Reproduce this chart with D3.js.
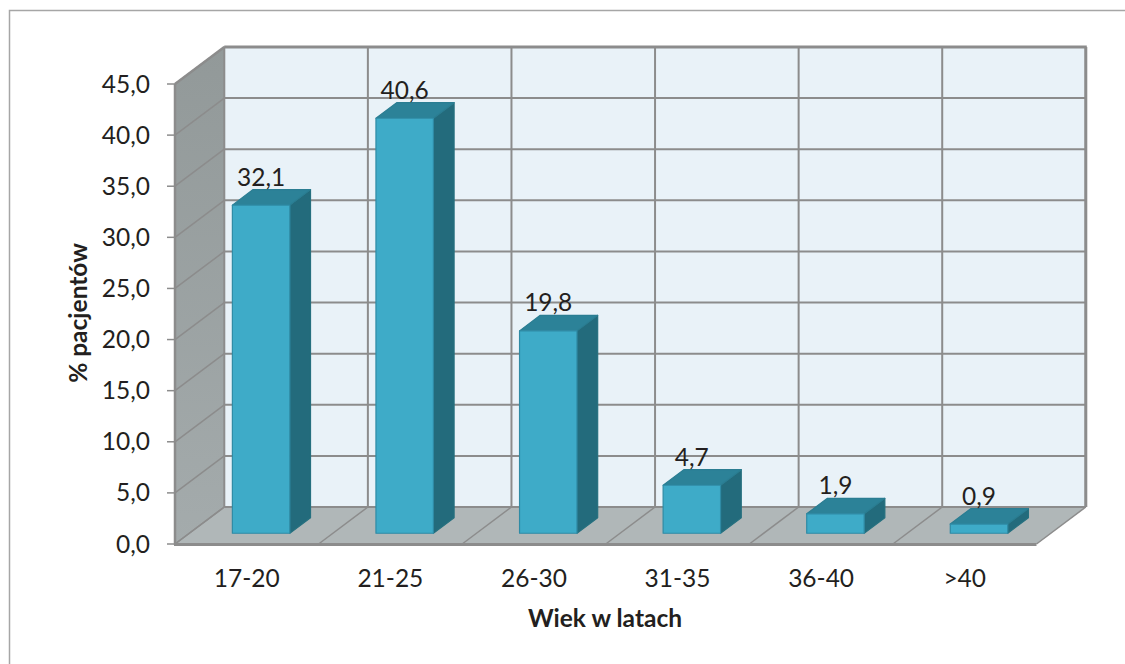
<!DOCTYPE html>
<html>
<head>
<meta charset="utf-8">
<script src="https://cdn.jsdelivr.net/npm/d3@7/dist/d3.min.js"></script>
<style>
html, body { margin: 0; padding: 0; background: #fff; }
svg { display: block; }
text { font-family: Lato, "Open Sans", sans-serif; fill: #231f20; }
</style>
</head>
<body>
<svg id="chart" width="1125" height="664"></svg>
<script>
// Age distribution of patients, drawn as a pseudo-3D column chart.
const categories = ["17-20", "21-25", "26-30", "31-35", "36-40", ">40"];
const values = [32.1, 40.6, 19.8, 4.7, 1.9, 0.9];
const valueLabels = ["32,1", "40,6", "19,8", "4,7", "1,9", "0,9"];
const yTicks = [0, 5, 10, 15, 20, 25, 30, 35, 40, 45];
const xTitle = "Wiek w latach";
const yTitle = "% pacjentów";

const svg = d3.select("#chart");

// Front plane of the box and the offset of its back wall.
const x = d3.scaleBand().domain(categories).range([175, 1036.5]);
const y = d3.scaleLinear().domain([0, 45]).range([544, 84]);
const depthX = 49.3, depthY = -37;
const gapRatio = 0.6;          // column width as share of the band is 1 - gapRatio
const depthStart = 0.29, depthEnd = 0.71;

const formatTick = d3.format(".1f");
const tickLabel = v => formatTick(v).replace(".", ",");
const line = d3.line();

const gridColor = "#8c8c8c";
const labelSize = 24.5;
const titleSize = 24.5;

// Outer frame of the chart area
svg.append("path")
  .attr("d", "M9.5,664V10.5H1125")
  .attr("fill", "none")
  .attr("stroke", "#a6a6a6")
  .attr("stroke-width", 1.5);

const x0 = x.range()[0], x1 = x.range()[1];
const y0 = y(0), yTop = y(45);

// Gradient for the shaded side wall
const defs = svg.append("defs");
const wallGrad = defs.append("linearGradient")
  .attr("id", "wall").attr("x1", 0).attr("y1", 0).attr("x2", 0).attr("y2", 1);
wallGrad.append("stop").attr("offset", 0).attr("stop-color", "#929999");
wallGrad.append("stop").attr("offset", 1).attr("stop-color", "#a4abac");

// Back wall, side wall, floor
svg.append("rect")
  .attr("x", x0 + depthX).attr("y", yTop + depthY)
  .attr("width", x1 - x0).attr("height", y0 - yTop)
  .attr("fill", "#e9f2f8");
svg.append("path")
  .attr("d", line([[x0, y0], [x0, yTop], [x0 + depthX, yTop + depthY], [x0 + depthX, y0 + depthY]]) + "Z")
  .attr("fill", "url(#wall)");
svg.append("path")
  .attr("d", line([[x0, y0], [x1, y0], [x1 + depthX, y0 + depthY], [x0 + depthX, y0 + depthY]]) + "Z")
  .attr("fill", "#b0b7b8");

// Horizontal gridlines running along the side wall and across the back wall
const gridG = svg.append("g").attr("fill", "none").attr("stroke", gridColor);
yTicks.forEach(v => {
  gridG.append("path")
    .attr("d", line([[x0, y(v)], [x0 + depthX, y(v) + depthY]]))
    .attr("stroke-width", 1.5);
  gridG.append("path")
    .attr("d", line([[x0 + depthX, y(v) + depthY], [x1 + depthX, y(v) + depthY]]))
    .attr("stroke-width", 2);
});

// Vertical gridlines on the back wall and their continuation on the floor
const edges = categories.map(c => x(c)).concat([x1]);
edges.forEach(ex => {
  gridG.append("path")
    .attr("d", line([[ex + depthX, y(45) + depthY], [ex + depthX, y(0) + depthY]]))
    .attr("stroke-width", 2);
  gridG.append("path")
    .attr("d", line([[ex, y0], [ex + depthX, y0 + depthY]]))
    .attr("stroke-width", 1.5);
});

// Box edges and the value axis with its tick marks
gridG.append("path").attr("d", line([[x0, yTop], [x0, y0 + 1]])).attr("stroke-width", 2.5);
gridG.append("path").attr("d", line([[x0 - 1, y0 + 0.5], [x1, y0 + 0.5]])).attr("stroke-width", 3);
gridG.append("path").attr("d", line([[x0, yTop], [x0 + depthX, yTop + depthY]])).attr("stroke-width", 2.5);
gridG.append("path").attr("d", line([[x0 + depthX, yTop + depthY], [x1 + depthX + 1, yTop + depthY]])).attr("stroke-width", 3);
gridG.append("path").attr("d", line([[x1 + depthX, yTop + depthY], [x1 + depthX, y0 + depthY]])).attr("stroke-width", 3);
yTicks.forEach(v => {
  gridG.append("path")
    .attr("d", line([[x0 - 8, y(v)], [x0, y(v)]]))
    .attr("stroke-width", 1.5);
});

// Columns: front, side and top faces
const band = x.bandwidth();
const barW = band * (1 - gapRatio);
const barG = svg.append("g")
  .attr("stroke-width", 1.2)
  .attr("stroke-linejoin", "round");
categories.forEach((c, i) => {
  const v = values[i];
  const left = x(c) + (band - barW) / 2 + depthStart * depthX;
  const right = left + barW;
  const base = y(0) + depthStart * depthY;
  const top = y(v) + depthStart * depthY;
  const dx = (depthEnd - depthStart) * depthX;
  const dy = (depthEnd - depthStart) * depthY;
  barG.append("path")
    .attr("d", line([[right, base], [right + dx, base + dy], [right + dx, top + dy], [right, top]]) + "Z")
    .attr("fill", "#236b7c").attr("stroke", "#26707f");
  barG.append("path")
    .attr("d", line([[left, top], [right, top], [right + dx, top + dy], [left + dx, top + dy]]) + "Z")
    .attr("fill", "#2c8298").attr("stroke", "#2a7d92");
  barG.append("rect")
    .attr("x", left).attr("y", top)
    .attr("width", barW).attr("height", base - top)
    .attr("fill", "#3eabc8").attr("stroke", "#2f8ba5");
  svg.append("text")
    .attr("x", left + barW / 2).attr("y", top - 19.5)
    .attr("text-anchor", "middle")
    .attr("font-size", labelSize)
    .text(valueLabels[i]);
});

// Value axis labels
svg.append("g").selectAll("text").data(yTicks).join("text")
  .attr("x", 150)
  .attr("y", v => y(v) + 8.5)
  .attr("text-anchor", "end")
  .attr("font-size", labelSize)
  .text(tickLabel);

// Category labels
svg.append("g").selectAll("text").data(categories).join("text")
  .attr("x", c => x(c) + band / 2)
  .attr("y", 587)
  .attr("text-anchor", "middle")
  .attr("font-size", labelSize)
  .text(c => c);

// Axis titles
svg.append("text")
  .attr("x", 605).attr("y", 627)
  .attr("text-anchor", "middle")
  .attr("font-size", titleSize).attr("font-weight", 700)
  .text(xTitle);
svg.append("text")
  .attr("transform", "translate(87,313) rotate(-90)")
  .attr("text-anchor", "middle")
  .attr("font-size", titleSize).attr("font-weight", 700)
  .text(yTitle);
</script>
</body>
</html>
